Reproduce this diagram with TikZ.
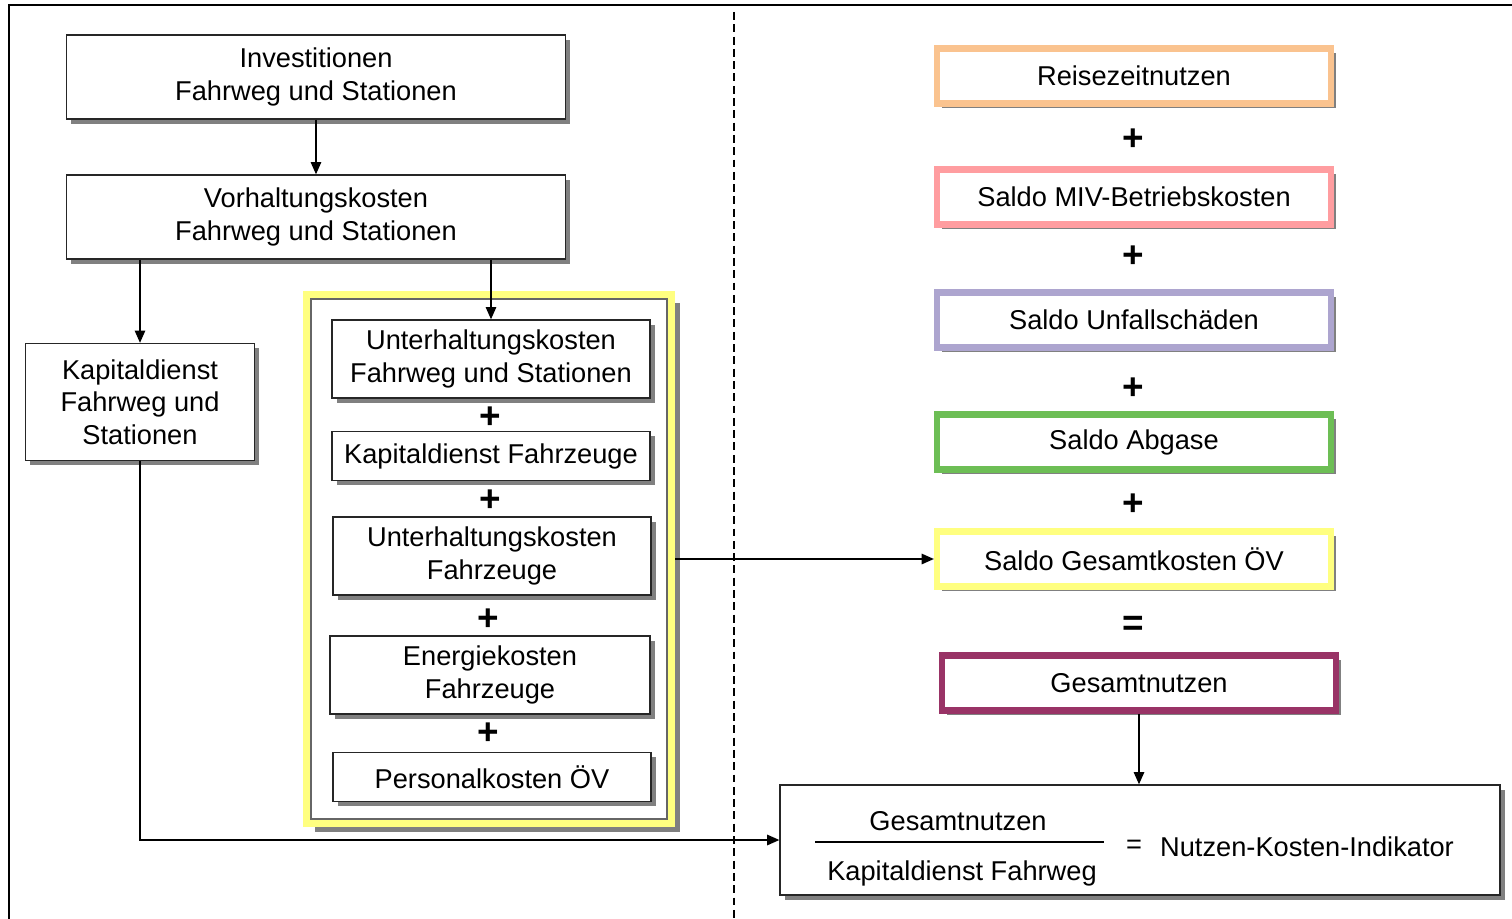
\documentclass[tikz,border=0pt]{standalone}
\usepackage{fontspec}
\setmainfont{Liberation Sans}
\usetikzlibrary{arrows.meta,shadows}
\definecolor{kOrange}{HTML}{FAC38F}
\definecolor{kRosa}{HTML}{FF9DA0}
\definecolor{kLila}{HTML}{ADA5CF}
\definecolor{kGruen}{HTML}{6DBE55}
\definecolor{kGelb}{HTML}{FFFF80}
\definecolor{kPurpur}{HTML}{993366}
\tikzset{
	schatten/.style={drop shadow={shadow xshift=2.6pt,shadow yshift=-2.6pt,fill=black!50,opacity=1}},
	kbox/.style={draw=black!85,line width=0.8pt,fill=white,align=center,inner sep=0pt,schatten},
	nbox/.style={kbox,draw=#1,line width=3.6pt,minimum width=7.88cm,minimum height=1.1cm},
	pfeil/.style={-{Triangle[length=7pt,width=6pt]},line width=0.8pt},
	op/.style={font=\fontsize{21}{21}\selectfont\bfseries,inner sep=0pt}
}
\begin{document}
\begin{tikzpicture}[x=0.02cm,y=-0.02cm,font=\fontsize{15.5}{18.5}\selectfont]
	\useasboundingbox (0,0) rectangle (1512,919);
	\draw[line width=0.9pt] (1512,5) -- (9,5) -- (9,919);
	\draw[line width=0.8pt,dash pattern=on 4.5pt off 2.5pt] (734,12) -- (734,919);
	% linke Seite
	\node[kbox,minimum width=9.98cm,minimum height=1.68cm] (inv) at (316,77) {Investitionen\\Fahrweg und Stationen};
	\node[kbox,minimum width=9.98cm,minimum height=1.68cm] (vor) at (316,217) {Vorhaltungskosten\\Fahrweg und Stationen};
	\node[kbox,minimum width=4.58cm,minimum height=2.34cm] (kap) at (140,402) {Kapitaldienst\\Fahrweg und\\Stationen};
	\node[fill=white,inner sep=0pt,outer sep=0pt,minimum width=7.3cm,minimum height=10.58cm,
		drop shadow={shadow xshift=4.6pt,shadow yshift=-4.6pt,fill=black!50,opacity=1}] (grp) at (489,559) {};
	\draw[kGelb,line width=4.4pt] (grp.north west) rectangle (grp.south east);
	\draw[black!60,line width=0.8pt] ([shift={(2.5pt,-2.5pt)}]grp.north west) rectangle ([shift={(-2.5pt,2.5pt)}]grp.south east);
	\node[kbox,minimum width=6.36cm,minimum height=1.56cm] (uf) at (491,359) {Unterhaltungskosten\\Fahrweg und Stationen};
	\node[op] (p1) at (490,418) {+};
	\node[kbox,minimum width=6.36cm,minimum height=0.98cm] (kfz) at (491,456) {Kapitaldienst Fahrzeuge};
	\node[op] (p2) at (490,501) {+};
	\node[kbox,minimum width=6.36cm,minimum height=1.56cm] (ufz) at (492,556) {Unterhaltungskosten\\Fahrzeuge};
	\node[op] (p3) at (488,620) {+};
	\node[kbox,minimum width=6.4cm,minimum height=1.56cm] (efz) at (490,675) {Energiekosten\\Fahrzeuge};
	\node[op] (p4) at (488,734) {+};
	\node[kbox,minimum width=6.36cm,minimum height=0.98cm] (pers) at (492,777) {Personalkosten ÖV};
	% rechte Seite
	\node[nbox=kOrange] (rz) at (1134,76) {Reisezeitnutzen};
	\node[op] (q1) at (1133,140) {+};
	\node[nbox=kRosa] (miv) at (1134,197) {Saldo MIV-Betriebskosten};
	\node[op] (q2) at (1133,257) {+};
	\node[nbox=kLila] (unf) at (1134,320) {Saldo Unfallschäden};
	\node[op] (q3) at (1133,389) {+};
	\node[nbox=kGruen] (abg) at (1134,442) {Saldo Abgase};
	\node[op] (q4) at (1133,505) {+};
	\node[nbox=kGelb] (sgk) at (1134,559) {Saldo Gesamtkosten ÖV};
	\node[op] (q5) at (1133,626) {=};
	\node[nbox=kPurpur] (ges) at (1139,683) {Gesamtnutzen};
	\node[kbox,minimum width=14.4cm,minimum height=2.2cm] (nki) at (1140,840) {};
	\node (zae) at (958,821) {Gesamtnutzen};
	\node (nen) at (962,873) {Kapitaldienst Fahrweg};
	\coordinate (bl) at (815,842);
	\coordinate (br) at (1104,842);
	\draw[line width=0.8pt] (bl) -- (br);
	\node (gl) at (1134,847) {=};
	\node (ind) at (1307,847) {Nutzen-Kosten-Indikator};
	% Pfeile
	\draw[pfeil] ([xshift=2.2pt]grp.east) -- (grp.east -| sgk.west);
	\draw[pfeil] (inv) -- (vor);
	\draw[pfeil] (vor.south -| kap.north) -- (kap.north);
	\draw[pfeil] (vor.south -| uf.north) -- (uf.north);
	\draw[pfeil] (kap.south) |- (nki.west);
	\draw[pfeil] (ges.south) -- (ges.south |- nki.north);
\end{tikzpicture}
\end{document}
